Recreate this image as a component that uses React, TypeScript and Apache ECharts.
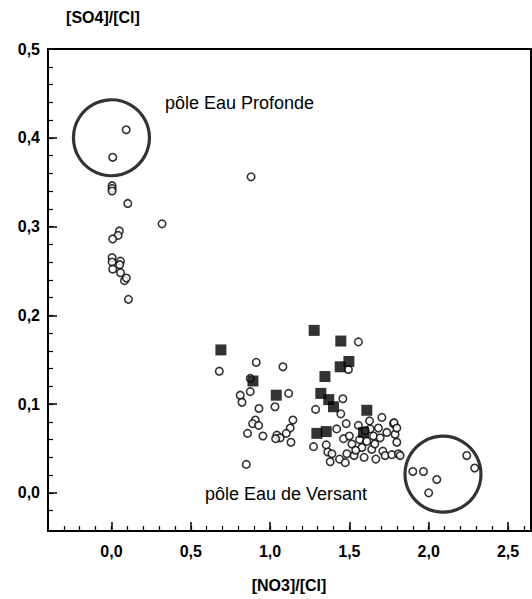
import React, { useEffect, useRef } from "react";
import * as echarts from "echarts";

// open circles: [NO3]/[Cl], [SO4]/[Cl]
const openPoints: number[][] = [
  [0.093, 0.409], [0.008, 0.378], [0.004, 0.346], [0.004, 0.343], [0.004, 0.340],
  [0.103, 0.326], [0.319, 0.303], [0.05, 0.295], [0.042, 0.290], [0.008, 0.286],
  [0.004, 0.265], [0.004, 0.260], [0.008, 0.252], [0.057, 0.261], [0.052, 0.257],
  [0.057, 0.248], [0.082, 0.239], [0.094, 0.242], [0.107, 0.218], [0.88, 0.356],
  [1.557, 0.170], [0.913, 0.147], [0.68, 0.137], [1.081, 0.142], [1.494, 0.139],
  [0.875, 0.129], [0.812, 0.110], [0.875, 0.114], [0.823, 0.102], [1.117, 0.112],
  [1.459, 0.106], [0.93, 0.095], [1.031, 0.097], [1.287, 0.094], [1.446, 0.089],
  [1.144, 0.082], [0.907, 0.082], [0.89, 0.078], [0.928, 0.076], [1.127, 0.073],
  [0.858, 0.067], [0.955, 0.064], [1.043, 0.065], [1.064, 0.062], [1.035, 0.061],
  [1.102, 0.067], [1.132, 0.057], [0.85, 0.032], [1.274, 0.052],
  [1.354, 0.054], [1.364, 0.046], [1.39, 0.044], [1.379, 0.035], [1.438, 0.038],
  [1.463, 0.061], [1.50, 0.064], [1.474, 0.034], [1.484, 0.044], [1.516, 0.055],
  [1.53, 0.042], [1.557, 0.076], [1.564, 0.060], [1.579, 0.051], [1.593, 0.040],
  [1.61, 0.058], [1.627, 0.081], [1.631, 0.072], [1.641, 0.049], [1.652, 0.064],
  [1.667, 0.038], [1.683, 0.073], [1.694, 0.062], [1.705, 0.085], [1.711, 0.047],
  [1.725, 0.042], [1.736, 0.068], [1.768, 0.043], [1.778, 0.078], [1.788, 0.066],
  [1.799, 0.057], [1.809, 0.044], [1.782, 0.079], [1.799, 0.073], [1.42, 0.072],
  [1.48, 0.078], [1.54, 0.048], [1.60, 0.070], [1.66, 0.055], [1.82, 0.042],
  [1.90, 0.024], [1.967, 0.024], [2.051, 0.015], [2.0, 0.0], [2.24, 0.042], [2.29, 0.028],
];

// filled squares
const squarePoints: number[][] = [
  [0.69, 0.161], [0.892, 0.126], [1.039, 0.110], [1.278, 0.183], [1.446, 0.171],
  [1.497, 0.148], [1.442, 0.142], [1.346, 0.131], [1.32, 0.112], [1.37, 0.105],
  [1.40, 0.097], [1.61, 0.093], [1.295, 0.067], [1.354, 0.069], [1.589, 0.068],
];

// end-member circles
const poleCenters: number[][] = [
  [0.0, 0.4],
  [2.09, 0.021],
];

const xMajorTicks = [0, 0.5, 1.0, 1.5, 2.0, 2.5];
const xMinorTicks = [
  -0.3, -0.2, -0.1, 0, 0.1, 0.2, 0.3, 0.4, 0.5, 0.6, 0.7, 0.8, 0.9, 1.0, 1.1, 1.2,
  1.3, 1.4, 1.5, 1.6, 1.7, 1.8, 1.9, 2.0, 2.1, 2.2, 2.3, 2.4, 2.5, 2.6,
];
const yMajorTicks = [0, 0.1, 0.2, 0.3, 0.4, 0.5];
const yMinorTicks = [
  -0.02, 0, 0.02, 0.04, 0.06, 0.08, 0.1, 0.12, 0.14, 0.16, 0.18, 0.2, 0.22, 0.24,
  0.26, 0.28, 0.3, 0.32, 0.34, 0.36, 0.38, 0.4, 0.42, 0.44, 0.46, 0.48,
];

const FONT = "'Liberation Sans', Arial, Helvetica, sans-serif";
const fmt = (v: number) => v.toFixed(1).replace(".", ",");

export default function App() {
  const ref = useRef<HTMLDivElement>(null);
  useEffect(() => {
    if (!ref.current) return;
    const chart = echarts.init(ref.current, undefined, { renderer: "svg" });
    const labelStyle = {
      color: "#000",
      fontFamily: FONT,
      fontSize: 16,
      fontWeight: "bold" as const,
      formatter: (v: number) => fmt(v),
    };
    const xMin = -0.4, xMax = 2.645, yMin = -0.043, yMax = 0.5;
    chart.setOption({
      animation: false,
      backgroundColor: "#fff",
      grid: {
        left: 48, top: 49, right: 1, bottom: 68,
        show: true, borderColor: "#000", borderWidth: 2, backgroundColor: "transparent",
      },
      xAxis: [
        {
          type: "value", min: xMin, max: xMax, position: "bottom",
          axisLine: { show: true, onZero: false, lineStyle: { color: "#000", width: 2 } },
          axisTick: { show: true, inside: true, length: 9, customValues: xMajorTicks, lineStyle: { color: "#000", width: 1.5 } },
          axisLabel: { ...labelStyle, customValues: xMajorTicks, margin: 12 },
          splitLine: { show: false },
        },
        {
          type: "value", min: xMin, max: xMax, position: "bottom", offset: 0,
          axisLine: { show: false, onZero: false },
          axisTick: { show: true, inside: true, length: 5, customValues: xMinorTicks, lineStyle: { color: "#000", width: 1.2 } },
          axisLabel: { show: false },
          splitLine: { show: false },
        },
      ],
      yAxis: [
        {
          type: "value", min: yMin, max: yMax, position: "left",
          axisLine: { show: true, onZero: false, lineStyle: { color: "#000", width: 2 } },
          axisTick: { show: true, inside: true, length: 9, customValues: yMajorTicks, lineStyle: { color: "#000", width: 1.5 } },
          axisLabel: { ...labelStyle, customValues: yMajorTicks, margin: 8 },
          splitLine: { show: false },
        },
        {
          type: "value", min: yMin, max: yMax, position: "left", offset: 0,
          axisLine: { show: false, onZero: false },
          axisTick: { show: true, inside: true, length: 5, customValues: yMinorTicks, lineStyle: { color: "#000", width: 1.2 } },
          axisLabel: { show: false },
          splitLine: { show: false },
        },
      ],
      series: [
        {
          type: "scatter", xAxisIndex: 0, yAxisIndex: 0,
          data: poleCenters, symbol: "circle", symbolSize: 76, silent: true,
          itemStyle: { color: "transparent", borderColor: "#000", borderWidth: 3.2 },
          z: 1,
        },
        {
          type: "scatter", xAxisIndex: 0, yAxisIndex: 0,
          data: openPoints, symbol: "circle", symbolSize: 7.5,
          itemStyle: { color: "#fff", borderColor: "#000", borderWidth: 1.6 },
          z: 2,
        },
        {
          type: "scatter", xAxisIndex: 0, yAxisIndex: 0,
          data: squarePoints, symbol: "rect", symbolSize: 11,
          itemStyle: { color: "#000" },
          z: 3,
        },
      ],
      graphic: [
        { type: "text", x: 103, y: 17, style: { text: "[SO4]/[Cl]", fill: "#000", font: `bold 16px ${FONT}`, textAlign: "center", textVerticalAlign: "middle" } },
        { type: "text", x: 289, y: 585, style: { text: "[NO3]/[Cl]", fill: "#000", font: `bold 16px ${FONT}`, textAlign: "center", textVerticalAlign: "middle" } },
        { type: "text", x: 165, y: 103, style: { text: "pôle Eau Profonde", fill: "#000", font: `18px ${FONT}`, textVerticalAlign: "middle" } },
        { type: "text", x: 205, y: 494, style: { text: "pôle Eau de Versant", fill: "#000", font: `18px ${FONT}`, textVerticalAlign: "middle" } },
      ],
    });
    return () => chart.dispose();
  }, []);
  return (
    <div
      ref={ref}
      style={{ position: "fixed", left: 0, top: 0, width: 532, height: 599, background: "#fff" }}
    />
  );
}
